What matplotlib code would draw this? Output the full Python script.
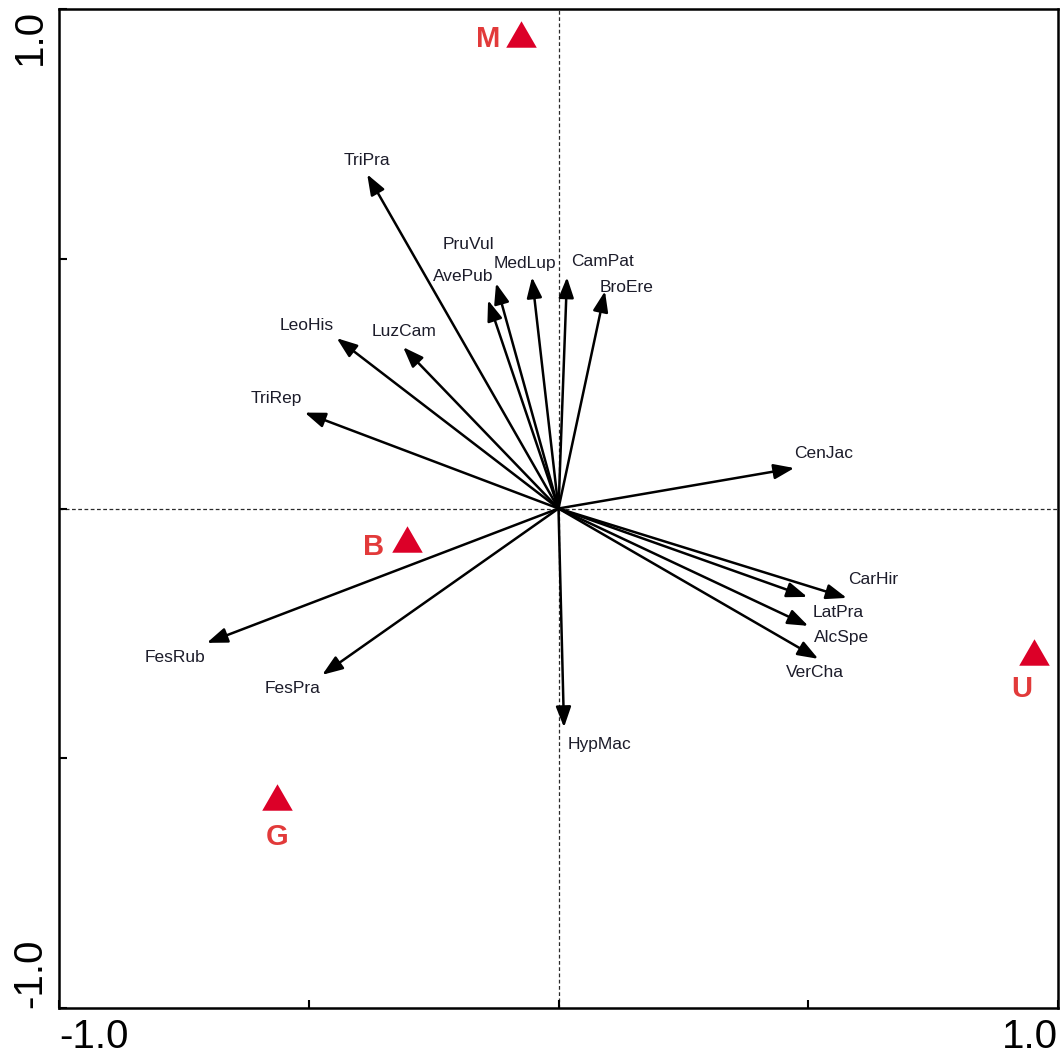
import matplotlib
matplotlib.use("Agg")
import matplotlib.pyplot as plt

plt.rcParams["font.family"] = ["Liberation Sans", "DejaVu Sans"]

# Species arrow tips (axis 1, axis 2)
species = ["TriPra", "LeoHis", "LuzCam", "TriRep", "AvePub", "PruVul", "MedLup",
           "CamPat", "BroEre", "CenJac", "CarHir", "LatPra", "AlcSpe", "VerCha",
           "HypMac", "FesRub", "FesPra"]
sp_x = [-0.383, -0.444, -0.311, -0.508, -0.141, -0.125, -0.053,
        0.017, 0.093, 0.472, 0.577, 0.498, 0.500, 0.520,
        0.011, -0.704, -0.473]
sp_y = [0.669, 0.341, 0.323, 0.192, 0.417, 0.451, 0.463,
        0.463, 0.435, 0.081, -0.179, -0.177, -0.235, -0.301,
        -0.438, -0.269, -0.333]

# Site (management) centroids
sites = ["M", "B", "G", "U"]
site_x = [-0.075, -0.303, -0.564, 0.952]
site_y = [0.950, -0.061, -0.578, -0.287]

tick_vals = [-1.0, -0.5, 0.0, 0.5, 1.0]
tick_text = ["-1.0", "", "", "", "1.0"]

# Label placement relative to each arrow tip (pixels)
sp_offsets = {
    "TriPra": (0, 14), "LeoHis": (-30, 13), "LuzCam": (1, 16), "TriRep": (-28, 14),
    "AvePub": (-25, 24), "PruVul": (-28, 39), "MedLup": (-7, 14), "CamPat": (36, 16),
    "BroEre": (22, 4), "CenJac": (29, 15), "CarHir": (26, 18), "LatPra": (31, -16),
    "AlcSpe": (33, -12), "VerCha": (-3, -14), "HypMac": (36, -17),
    "FesRub": (-32, -15), "FesPra": (-30, -14),
}
site_offsets = {"M": (-33, -5), "B": (-34, -8), "G": (0, -40), "U": (-12, -37)}

fig = plt.figure(figsize=(10.62, 10.61), dpi=100)
ax = fig.add_axes([59 / 1062, 53 / 1061, 999 / 1062, 999 / 1061])
ax.set_xlim(-1, 1)
ax.set_ylim(-1, 1)

ax.axhline(0, color="#2a2a2a", lw=0.9, ls=(0, (3, 2)), zorder=1)
ax.axvline(0, color="#2a2a2a", lw=0.9, ls=(0, (3, 2)), zorder=1)

for name, x, y in zip(species, sp_x, sp_y):
    ax.annotate("", xy=(x, y), xytext=(0, 0),
                arrowprops=dict(arrowstyle="-|>,head_length=0.62,head_width=0.23",
                                mutation_scale=20, lw=1.8, color="black",
                                shrinkA=0, shrinkB=0), zorder=3)
    dx, dy = sp_offsets[name]
    ax.annotate(name, xy=(x, y), xytext=(dx, dy), textcoords="offset pixels",
                ha="center", va="center", fontsize=12.5, color="#1c1c2a", zorder=4)

tri = [(-1, -0.866), (1, -0.866), (0, 0.866)]
ax.plot(site_x, site_y, ls="none", marker=tri, markersize=22,
        color="#DC0028", markeredgewidth=0, zorder=5)
for name, x, y in zip(sites, site_x, site_y):
    dx, dy = site_offsets[name]
    ax.annotate(name, xy=(x, y), xytext=(dx, dy), textcoords="offset pixels",
                ha="center", va="center", fontsize=21, fontweight="bold",
                color="#E23A3A", zorder=5)

ax.set_xticks(tick_vals)
ax.set_xticklabels(tick_text)
ax.set_yticks(tick_vals)
ax.set_yticklabels(tick_text, rotation=90)
ax.tick_params(direction="in", length=6, width=1.5, labelsize=29, pad=7)

xl = ax.get_xticklabels()
xl[0].set_ha("left")
xl[-1].set_ha("right")
yl = ax.get_yticklabels()
yl[0].set_va("bottom")
yl[-1].set_va("top")

for s in ax.spines.values():
    s.set_linewidth(1.8)

fig.savefig("out.png", dpi=100)
